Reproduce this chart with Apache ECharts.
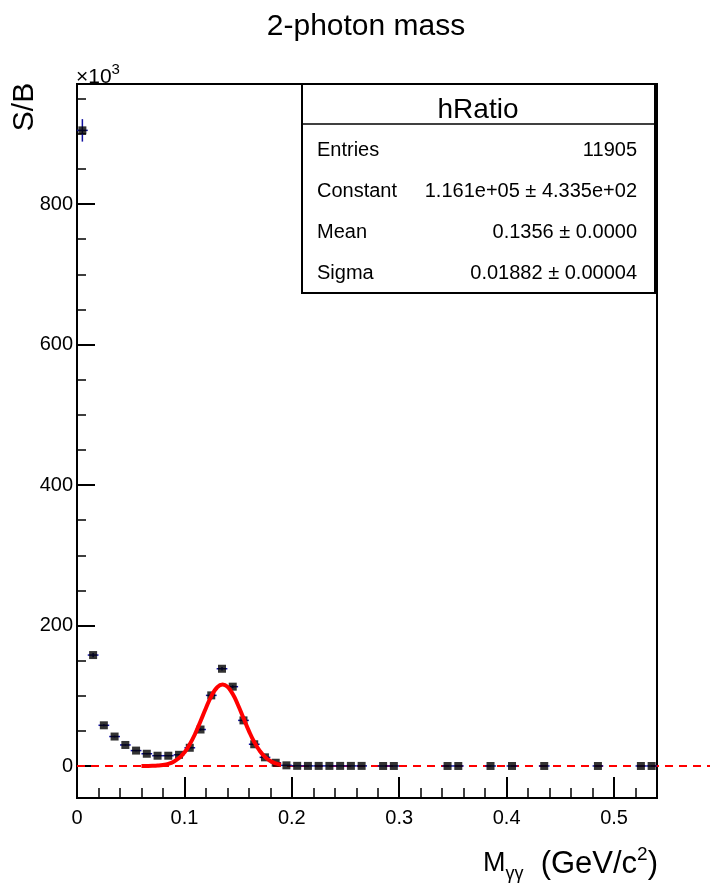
<!DOCTYPE html>
<html><head><meta charset="utf-8">
<script src="https://cdn.jsdelivr.net/npm/echarts@6/dist/echarts.min.js"></script>
<style>html,body{margin:0;padding:0;background:#fff}#c{width:710px;height:889px}</style>
</head><body><div id="c"></div>
<script>
// ---- data (values in units of 10^3) ----
const binCenters = [0.005,0.015,0.025,0.035,0.045,0.055,0.065,0.075,0.085,0.095,
  0.105,0.115,0.125,0.135,0.145,0.155,0.165,0.175,0.185,0.195,
  0.205,0.215,0.225,0.235,0.245,0.255,0.265,0.285,0.295,
  0.345,0.355,0.385,0.405,0.435,0.485,0.525,0.535];
const binValues = [905,158,58,42,30,22,17.5,14.7,14.7,16,
  26,52,100.6,138.5,113,65,31,12.4,4.7,1,
  0.3,0.2,0.2,0.2,0.2,0.2,0.2,0.1,0.1,
  0.1,0.1,0.1,0.1,0.1,0.1,0.1,0.1];
const binErrors = [16,3,1.5,1.2,1,0.9,0.8,0.7,0.7,0.8,
  1,1.5,2,2.5,2,1.5,1,0.7,0.4,0.2,
  0.1,0.1,0.1,0.1,0.1,0.1,0.1,0.1,0.1,
  0.1,0.1,0.1,0.1,0.1,0.1,0.1,0.1];
const binHalfWidth = 0.005;

const fitX = [0.060,0.065,0.070,0.075,0.080,0.085,0.090,0.095,0.100,0.105,0.110,0.115,0.120,0.125,0.130,0.1356,
  0.140,0.145,0.150,0.155,0.160,0.165,0.170,0.175,0.180,0.185,0.190];
const fitY = [0.04,0.1,0.27,0.65,1.5,3.1,6.2,11.3,19.4,31,46,63.8,82.3,99.1,111.1,116.1,
  113,102.5,86.6,68.3,50.1,34.3,21.9,13,7.2,3.7,1.8];

const xTickValues = [0,0.1,0.2,0.3,0.4,0.5];
const xTickLabels = ['0','0.1','0.2','0.3','0.4','0.5'];
const xMinorTicks = [0.02,0.04,0.06,0.08,0.12,0.14,0.16,0.18,0.22,0.24,0.26,0.28,
  0.32,0.34,0.36,0.38,0.42,0.44,0.46,0.48,0.52];
const yTickValues = [0,200,400,600,800];
const yTickLabels = ['0','200','400','600','800'];
const yMinorTicks = [50,100,150,250,300,350,450,500,550,650,700,750,850,900,950];
const xRange = [0,0.54];
const yRange = [-45.5,971];
const zeroLineX = [0,0.6];

const statTitle = 'hRatio';
const statNames = ['Entries','Constant','Mean','Sigma'];
const statValues = ['11905','1.161e+05 ± 4.335e+02','0.1356 ± 0.0000','0.01882 ± 0.00004'];

// ---- chart ----
const FONT = '"Liberation Sans", Arial, Helvetica, sans-serif';
const chart = echarts.init(document.getElementById('c'), null, {renderer:'canvas'});

const points = binCenters.map((x,i)=>[x,binValues[i],binErrors[i]]);
const fitData = fitX.map((x,i)=>[x,fitY[i]]);

const statGraphics = [];
const bx = 302, by = 84, bw = 353, bh = 209;
statGraphics.push({type:'rect', shape:{x:bx,y:by,width:bw,height:bh},
  style:{fill:'#fff',stroke:'#000',lineWidth:2}, z:100});
statGraphics.push({type:'line', shape:{x1:bx,y1:124,x2:bx+bw,y2:124},
  style:{stroke:'#000',lineWidth:1.5}, z:101});
statGraphics.push({type:'text', x:478, y:110, z:102,
  style:{text:statTitle, font:'28px '+FONT, fill:'#000', textAlign:'center', textVerticalAlign:'middle'}});
statNames.forEach((n,i)=>{
  const yy = 150 + i*41;
  statGraphics.push({type:'text', x:317, y:yy, z:102,
    style:{text:n, font:'20px '+FONT, fill:'#000', textAlign:'left', textVerticalAlign:'middle'}});
  statGraphics.push({type:'text', x:637, y:yy, z:102,
    style:{text:statValues[i], font:'20px '+FONT, fill:'#000', textAlign:'right', textVerticalAlign:'middle'}});
});

const option = {
  animation:false,
  backgroundColor:'#fff',
  grid:{left:77, top:84, width:580, height:714, show:true, borderColor:'#000', borderWidth:2, backgroundColor:'transparent'},
  xAxis:[{
    type:'value', min:xRange[0], max:xRange[1], position:'bottom',
    axisLine:{show:false, onZero:false},
    splitLine:{show:false},
    axisTick:{show:true, inside:true, length:21, customValues:xTickValues, lineStyle:{color:'#000',width:2}},
    axisLabel:{show:true, customValues:xTickValues, margin:10, color:'#000', fontSize:20, fontFamily:FONT,
      formatter:(v)=>{const k=xTickValues.findIndex(t=>Math.abs(t-v)<1e-9); return k>=0?xTickLabels[k]:'';}}
  },{
    type:'value', min:xRange[0], max:xRange[1], position:'bottom',
    axisLine:{show:false, onZero:false}, splitLine:{show:false}, axisLabel:{show:false},
    axisTick:{show:true, inside:true, length:10, customValues:xMinorTicks, lineStyle:{color:'#000',width:1.5}}
  }],
  yAxis:[{
    type:'value', min:yRange[0], max:yRange[1], position:'left',
    axisLine:{show:false, onZero:false}, splitLine:{show:false},
    axisTick:{show:true, inside:true, length:18, customValues:yTickValues, lineStyle:{color:'#000',width:2}},
    axisLabel:{show:true, customValues:yTickValues, margin:4, color:'#000', fontSize:20, fontFamily:FONT,
      formatter:(v)=>{const k=yTickValues.findIndex(t=>Math.abs(t-v)<1e-9); return k>=0?yTickLabels[k]:'';}}
  },{
    type:'value', min:yRange[0], max:yRange[1], position:'left',
    axisLine:{show:false, onZero:false}, splitLine:{show:false}, axisLabel:{show:false},
    axisTick:{show:true, inside:true, length:9, customValues:yMinorTicks, lineStyle:{color:'#000',width:1.5}}
  }],
  series:[
    {type:'custom', name:'zero', data:[[zeroLineX[0],0,zeroLineX[1]]], clip:false, z:1, silent:true,
      renderItem:(params, api)=>{
        const a=api.coord([api.value(0),api.value(1)]);
        const b=api.coord([api.value(2),api.value(1)]);
        return {type:'line', shape:{x1:a[0],y1:a[1],x2:b[0],y2:b[1]},
          style:{stroke:'#ff0000', lineWidth:2, lineDash:[8,6]}};
      }},
    {type:'custom', name:'errors', data:points, z:2, clip:false,
      renderItem:(params, api)=>{
        const x=api.value(0), y=api.value(1), e=api.value(2);
        const pl=api.coord([x-binHalfWidth,y]), pr=api.coord([x+binHalfWidth,y]);
        const pt=api.coord([x,y+e]), pb=api.coord([x,y-e]);
        const st={stroke:'#1010a0', lineWidth:1.5};
        return {type:'group', children:[
          {type:'line', shape:{x1:pl[0],y1:pl[1],x2:pr[0],y2:pr[1]}, style:st},
          {type:'line', shape:{x1:pt[0],y1:pt[1],x2:pb[0],y2:pb[1]}, style:st}
        ]};
      }},
    {type:'scatter', name:'hRatio', data:points.map(p=>[p[0],p[1]]), symbol:'rect', symbolSize:8, z:3,
      itemStyle:{color:'#000'}, silent:true},
    {type:'line', name:'fit', data:fitData, smooth:true, symbol:'none', z:4,
      lineStyle:{color:'#ff0000', width:4}, silent:true}
  ],
  graphic:[
    {type:'text', x:366, y:27, style:{text:'2-photon mass', font:'30px '+FONT, fill:'#000', textAlign:'center', textVerticalAlign:'middle'}},
    {type:'text', x:25, y:107, rotation:Math.PI/2, style:{text:'S/B', font:'30px '+FONT, fill:'#000', textAlign:'center', textVerticalAlign:'middle'}},
    {type:'text', x:76, y:75, style:{text:'{a|×10}{b|3}', textAlign:'left', textVerticalAlign:'middle',
      rich:{a:{font:'21px '+FONT, fill:'#000', lineHeight:26, verticalAlign:'bottom'}, b:{font:'15px '+FONT, fill:'#000', lineHeight:26, verticalAlign:'top'}}}},
    {type:'text', x:658, y:864, style:{text:'{m|M}{s|γγ}{a|  (GeV/c}{p|2}{a|)}', textAlign:'right', textVerticalAlign:'middle',
      rich:{m:{font:'27px '+FONT, fill:'#000', lineHeight:38, verticalAlign:'middle'},
            a:{font:'31px '+FONT, fill:'#000', lineHeight:38, verticalAlign:'middle'},
            s:{font:'18px '+FONT, fill:'#000', lineHeight:16, verticalAlign:'bottom'},
            p:{font:'19px '+FONT, fill:'#000', lineHeight:18, verticalAlign:'top'}}}},
    ...statGraphics
  ]
};
chart.setOption(option);
</script></body></html>
